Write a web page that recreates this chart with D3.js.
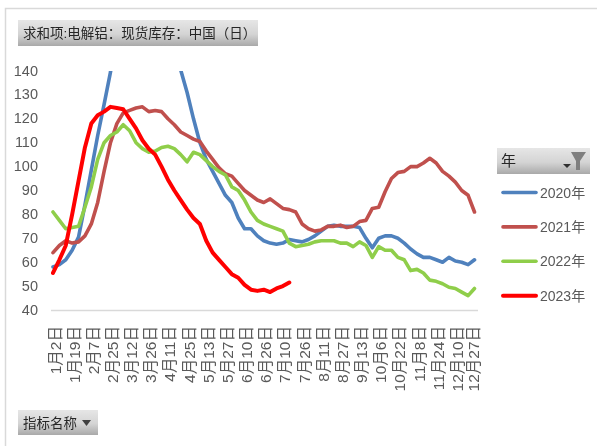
<!DOCTYPE html>
<html><head><meta charset="utf-8">
<script src="https://cdn.jsdelivr.net/npm/d3@7/dist/d3.min.js"></script>
<style>
html,body{margin:0;padding:0;background:#fff;overflow:hidden}
svg{display:block;filter:blur(0.45px)}
text{font-family:"Liberation Sans","Noto Sans CJK SC",sans-serif;}
</style></head><body>
<svg id="c" width="597" height="446"></svg>
<script>
const title = "求和项:电解铝：现货库存：中国（日）";
const tickLabels = ["1月2日","1月19日","2月7日","2月25日","3月12日","3月26日","4月11日","4月25日","5月13日","5月27日","6月10日","6月26日","7月10日","7月26日","8月11日","8月27日","9月13日","10月6日","10月22日","11月8日","11月24日","12月10日","12月27日"];
const years = ["2020年","2021年","2022年","2023年"];
const colors = ["#4f81bd","#c0504d","#8fce4a","#ff0000"];
const widths = [3.6,3.6,3.6,4];
const yTicks = [40,50,60,70,80,90,100,110,120,130,140];
const s2020 = [58,59,61,65,70.5,84,98.5,113,126,139.5,155,170,180,185,185,182,175,168,160,152,140.4,131,120,110,103,98,93,88,85,78.5,74,74,71,69,68,67.5,68,69.5,69,68.5,69.5,71,73,75,75.5,75,75,75,74.5,70,66,70,71,71,70,68,65.5,63.5,62,62,61,60,62,60.5,60,59,61];
const s2021 = [64,67,69,68,68.5,71,76,85,98,110,118,122.5,123.5,124.5,125,123,123.5,123,120,117.5,114.5,113,111.5,110.5,106.5,103,99.5,97,96,93,90,88,86,85,86.5,84.5,82.5,82,81,76,74,73,73.5,75,75,75.5,74.5,75,77,77.5,82.5,83,89.5,95,97.5,98,100,100,101.5,103.5,101.5,98,96,93.5,90,88,81];
const s2022 = [81,77.5,74,74.5,75,83,91.5,103,110,113,114.5,117.5,115,110,107.5,106,106.5,108,108.5,107.5,105,102,106,105,102.5,100,98,96.5,91.5,90,86,81,77.5,76,75,74,73,68,66.5,67,67.5,68.5,69,69,69,68,68,66.5,68.5,67,62,66.5,65,65,62,61,56.5,57,55.5,52.5,52,51,49.5,49,47.5,46,49];
const s2023 = [55.5,61,67,80,94,108,118,121.5,123,125,124.5,124,120,116,111,107.5,105,100,94.5,90,86,82,78.5,76,69,64,61,58,55,53.5,50.5,48.5,48,48.5,47.5,49,50,51.5];
const seriesData = [s2020,s2021,s2022,s2023];

const svg = d3.select("#c");
const x = d3.scalePoint().domain(d3.range(s2020.length)).range([53,474.5]);
const y = d3.scaleLinear().domain([40,140]).range([310,71]);
const grey = "#595959";

// frame
svg.append("path").attr("d","M5.5 446V8.5H597").attr("fill","none").attr("stroke","#d9d9d9").attr("stroke-width",1.5);

const defs = svg.append("defs");
const grad = defs.append("linearGradient").attr("id","btn").attr("x1",0).attr("y1",0).attr("x2",0).attr("y2",1);
grad.append("stop").attr("offset","0%").attr("stop-color","#e6e6e6");
grad.append("stop").attr("offset","55%").attr("stop-color","#d4d4d4");
grad.append("stop").attr("offset","100%").attr("stop-color","#a9a9a9");
defs.append("clipPath").attr("id","plot").append("rect").attr("x",40).attr("y",71).attr("width",450).attr("height",245);

function button(bx,by,bw,bh,label,tx,size){
  svg.append("rect").attr("x",bx).attr("y",by).attr("width",bw).attr("height",bh).attr("fill","url(#btn)");
  svg.append("text").attr("x",tx).attr("y",by+bh/2+5).attr("font-size",size).attr("fill","#262626").text(label);
}
button(18,20,240,26,title,23,13.5);
button(18,410,80,25,"指标名称",23,13.5);
svg.append("path").attr("d",d3.line()([[82,420],[91,420],[86.5,426]])).attr("fill","#404040");
button(497,148,93,26,"年",501,15);
svg.append("path").attr("d",d3.line()([[563,164],[571,164],[567,168]])).attr("fill","#303030");
svg.append("path").attr("d",d3.line()([[571,152],[586,152],[580,161],[580,170],[576,170],[576,161]])).attr("fill","#7f7f7f");

// axes
const yAxis = svg.append("g").attr("transform","translate(38,0)").call(d3.axisLeft(y).tickValues(yTicks).tickSize(0).tickPadding(0));
yAxis.select(".domain").remove();
yAxis.selectAll("text").attr("font-size",14.5).attr("fill",grey).attr("dy","0.28em").style("font-family","'Liberation Sans Narrow','Liberation Sans',sans-serif");

const xAxis = svg.append("g").attr("transform","translate(0,310)")
  .call(d3.axisBottom(x).tickValues(tickLabels.map((d,i)=>i*3)).tickSize(0).tickFormat(d=>tickLabels[d/3]));
xAxis.select(".domain").attr("stroke","#d9d9d9").attr("stroke-width",1.5).attr("d","M51 0.5H478");
xAxis.selectAll("text")
  .attr("font-size",15.5).attr("fill",grey)
  .attr("text-anchor","end").attr("dy",0)
  .attr("transform",function(d){return `translate(${d===66?-1.5:2},0) rotate(-90) translate(-16,5)`;})
  .attr("x",0).attr("y",0);

// lines
const line = d3.line().x((d,i)=>x(i)).y(d=>y(d));
svg.append("g").attr("clip-path","url(#plot)").selectAll("path").data(seriesData).join("path")
  .attr("d",line).attr("fill","none").attr("stroke",(d,i)=>colors[i]).attr("stroke-width",(d,i)=>widths[i])
  .attr("stroke-linejoin","round").attr("stroke-linecap","round");

// legend
const lg = svg.append("g").selectAll("g").data(years).join("g").attr("transform",(d,i)=>`translate(0,${192.5+i*34.4})`);
lg.append("line").attr("x1",503).attr("x2",536).attr("stroke",(d,i)=>colors[i]).attr("stroke-width",(d,i)=>widths[i]).attr("stroke-linecap","round");
lg.append("text").attr("x",540).attr("y",5).attr("font-size",14).attr("fill",grey).text(d=>d);
</script>
</body></html>
